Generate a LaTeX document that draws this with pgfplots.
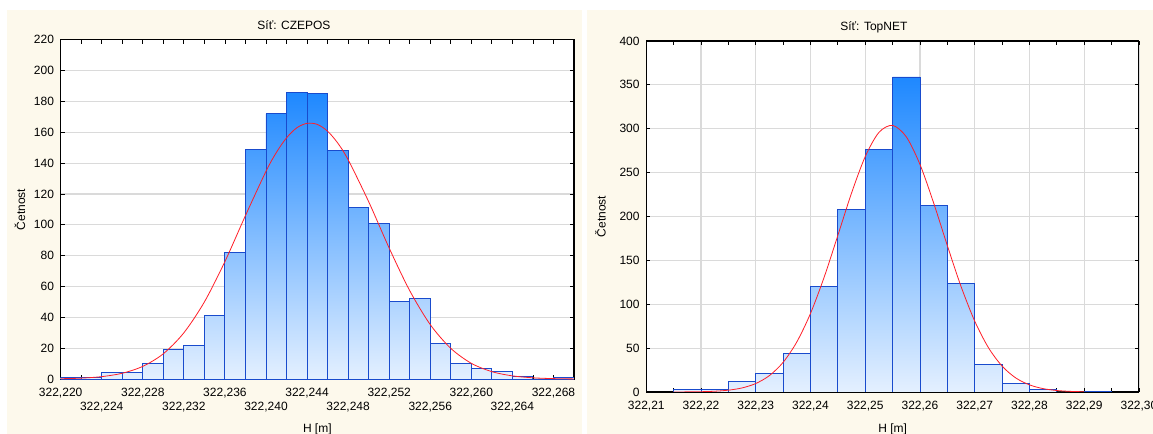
\documentclass[border=0pt]{standalone}
\usepackage{pgfplots}
\pgfplotsset{compat=1.18}
\usepackage{pgfplotstable}
\usepackage{fontspec}
\setmainfont{Liberation Sans}
\definecolor{panel}{RGB}{253,249,236}
\definecolor{barlight}{RGB}{228,240,255}
\definecolor{bardark}{RGB}{30,136,255}
\definecolor{baredge}{RGB}{25,75,205}
\definecolor{gridc}{RGB}{218,218,218}
\definecolor{fitred}{RGB}{255,30,40}

% x = H - 322.200 m, in mm
\pgfplotstableread{
x h
20 1
22 1
24 4
26 4
28 10
30 19
32 22
34 41
36 82
38 149
40 172
42 186
44 185
46 148
48 111
50 101
52 50
54 52
56 23
58 10
60 7
62 5
64 2
66 0
68 1
70 1
}\histA

\pgfplotstableread{
x h
15 3
20 3
25 12
30 21
35 44
40 120
45 208
50 276
55 359
60 212
65 124
70 31
75 10
80 3
85 0
90 1
95 1
}\histB

\pgfplotstableread{
x y
20 0.21
22 0.60
24 1.57
26 3.77
28 8.24
30 16.4
32 30.0
34 50.0
36 76.2
38 106.0
40 134.7
41 146.8
42 156.4
43 162.9
44 165.8
45 165.1
46 160.7
47 152.9
48 142.2
50 115.0
52 84.9
54 57.3
56 35.3
58 19.9
60 10.2
62 4.80
64 2.06
66 0.81
68 0.29
70 0.09
}\fitA

\pgfplotstableread{
x y
15.0 0.04
17.5 0.12
20.0 0.33
22.5 0.86
25.0 2.06
27.5 4.62
30.0 9.63
32.5 18.7
35.0 33.8
37.5 57.0
40.0 89.5
42.5 130.9
45.0 178.5
47.5 226.7
50.0 268.3
52.5 295.8
55.0 303.8
57.5 290.8
60.0 259.3
62.5 215.4
65.0 166.8
67.5 120.3
70.0 80.8
72.5 50.6
75.0 29.5
77.5 16.0
80.0 8.12
82.5 3.83
85.0 1.68
87.5 0.69
90.0 0.26
}\fitB

\pgfplotsset{
  statstyle/.style={
    scale only axis,
    anchor=north west,
    axis background/.style={fill=white},
    axis line style={black, line width=0.8pt},
    tick align=inside,
    major tick length=3pt,
    minor tick length=3pt,
    tick style={black, line width=0.6pt},
    /pgf/number format/assume math mode=true,
    tick label style={font=\fontsize{9}{9.75}\selectfont},
    xticklabel style={align=center, yshift=-3.5pt},
    yticklabel style={xshift=-1.5pt},
    label style={font=\fontsize{9}{10}\selectfont},
    title style={font=\fontsize{9}{10}\selectfont, anchor=base},
    grid style={gridc, line width=0.9pt},
    clip=true,
  },
}

\begin{document}
\begin{tikzpicture}
\fill[white] (0,0) rectangle (864.75pt,325.5pt);
\fill[panel] (5.25pt,0) rectangle (436.5pt,318pt);
\fill[panel] (440.25pt,0) rectangle (864.75pt,318pt);
\useasboundingbox (0,0) rectangle (864.75pt,325.5pt);

\begin{axis}[statstyle,
  at={(45.5pt,295.7pt)},
  width=385pt, height=254.5pt,
  xmin=20, xmax=70, ymin=0, ymax=220,
  xtick={20,24,...,68}, minor x tick num=1,
  xticklabels={{322,220},{\strut\\322,224},{322,228},{\strut\\322,232},{322,236},{\strut\\322,240},{322,244},{\strut\\322,248},{322,252},{\strut\\322,256},{322,260},{\strut\\322,264},{322,268}},
  ytick={0,20,...,220},
  ymajorgrids,
  title={Síť: CZEPOS},
  title style={at={(axis description cs:0.4545,1)}, yshift=1.7pt},
  xlabel={H [m]},
  xlabel style={at={(axis description cs:0.5,-0.147)}, anchor=center},
  ylabel={Četnost},
  ylabel style={at={(axis description cs:-0.0793,0.5)}, anchor=center},
]
\addplot[const plot, draw=none, bottom color=barlight, top color=bardark] table[x=x, y=h] {\histA} \closedcycle;
\addplot[ybar interval, fill=none, draw=baredge, line width=0.7pt] table[x=x, y=h] {\histA};
\addplot[fitred, line width=0.6pt, smooth, mark=none] table[x=x, y=y] {\fitA};
\end{axis}

\begin{axis}[statstyle,
  at={(484.7pt,294.75pt)},
  width=369.5pt, height=263.25pt,
  xmin=10, xmax=100, ymin=0, ymax=400,
  xtick={10,20,...,100}, minor x tick num=1,
  xticklabels={{322,21},{322,22},{322,23},{322,24},{322,25},{322,26},{322,27},{322,28},{322,29},{322,30}},
  ytick={0,50,...,400},
  xmajorgrids, ymajorgrids,
  title={Síť: TopNET},
  title style={at={(axis description cs:0.462,1)}, yshift=1.9pt},
  xlabel={H [m]},
  xlabel style={at={(axis description cs:0.5,-0.108)}, anchor=center},
  ylabel={Četnost},
  ylabel style={at={(axis description cs:-0.093,0.5)}, anchor=center},
]
\addplot[const plot, draw=none, bottom color=barlight, top color=bardark] table[x=x, y=h] {\histB} \closedcycle;
\addplot[ybar interval, fill=none, draw=baredge, line width=0.7pt] table[x=x, y=h] {\histB};
\addplot[fitred, line width=0.6pt, smooth, mark=none] table[x=x, y=y] {\fitB};
\end{axis}
\end{tikzpicture}
\end{document}
